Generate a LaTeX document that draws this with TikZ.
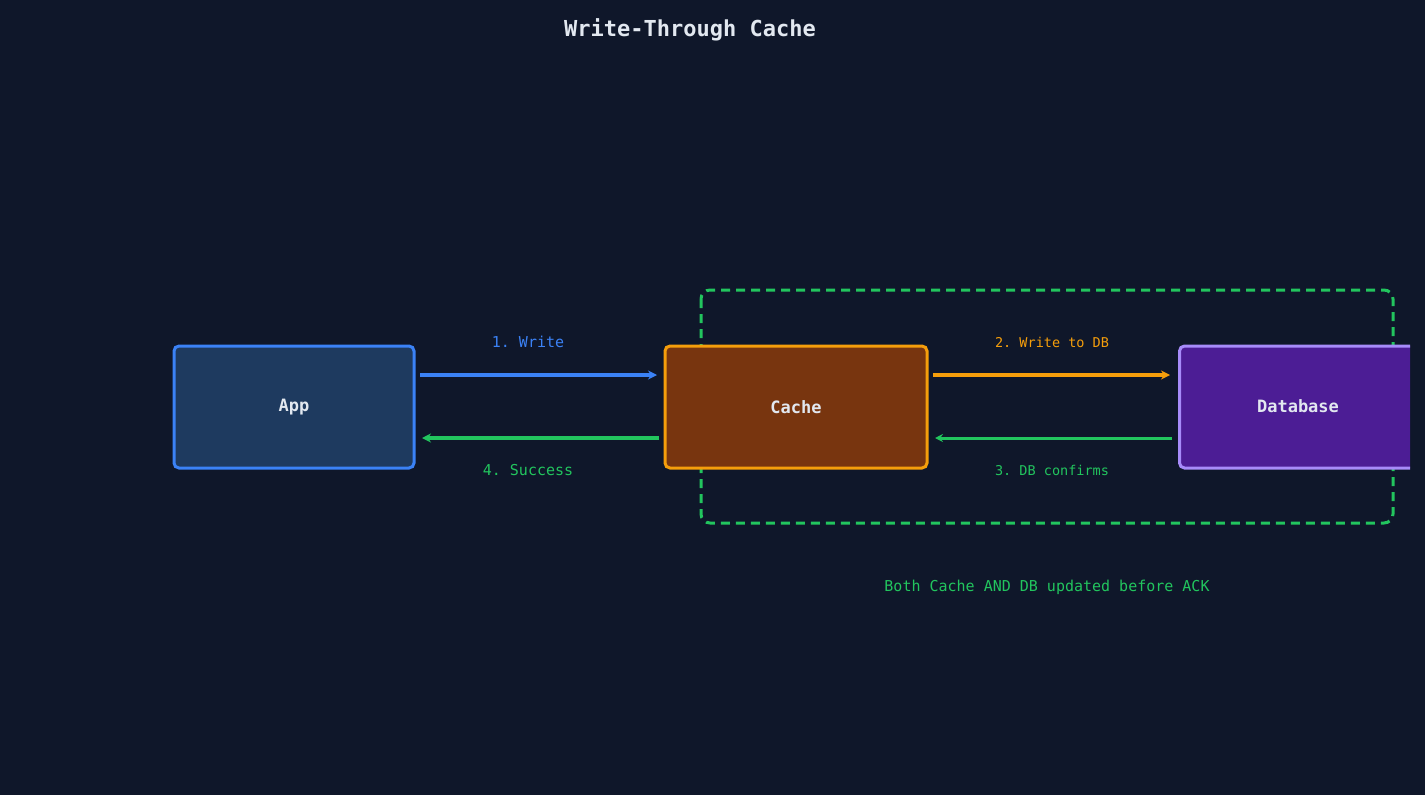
\documentclass[tikz,border=0pt]{standalone}
\usepackage{fontspec}
\setmonofont{DejaVu Sans Mono}
\usetikzlibrary{arrows.meta}
\definecolor{bg}{HTML}{0F172A}
\definecolor{blu}{HTML}{3B82F6}
\definecolor{grn}{HTML}{22C55E}
\definecolor{org}{HTML}{F59E0B}
\definecolor{pur}{HTML}{A78BFA}
\definecolor{txt}{HTML}{E2E8F0}
\definecolor{appf}{HTML}{1E3A5F}
\definecolor{cachef}{HTML}{78350F}
\definecolor{dbf}{HTML}{4C1D95}
\tikzset{
 box/.style={draw, line width=3pt, rounded corners=5pt, inner sep=0pt, font=\ttfamily\bfseries\fontsize{17}{20}\selectfont, text=txt},
 arr/.style={line width=3.5pt, -{Stealth[length=9pt,width=9pt]}},
 lab/.style={font=\ttfamily\fontsize{15}{18}\selectfont}
}
\begin{document}
\begin{tikzpicture}[x=1pt,y=-1pt]
\fill[bg] (0,0) rectangle (1425,795);
\useasboundingbox (0,0) rectangle (1425,795);
\node[font=\ttfamily\bfseries\fontsize{22}{26}\selectfont, text=txt] (title) at (690,30) {Write-Through Cache};
\draw[grn, line width=3pt, dash pattern=on 9pt off 6pt, rounded corners=9pt] (701,290) rectangle (1393,523);
\node[box, fill=appf, draw=blu, minimum width=240pt, minimum height=122pt] (app) at (294,407) {App};
\node[box, fill=cachef, draw=org, minimum width=262pt, minimum height=122pt] (cache) at (796,407) {Cache};
\begin{scope}
\clip (0,0) rectangle (1410,795);
\node[box, fill=dbf, draw=pur, minimum width=240pt, minimum height=122pt, anchor=west] (db) at (1178,407) {};
\end{scope}
\node[font=\ttfamily\bfseries\fontsize{17}{20}\selectfont, text=txt] (dbl) at (1298,406) {Database};
\coordinate (a1) at (420,375); \coordinate (a2) at (657,375);
\coordinate (b1) at (659,438); \coordinate (b2) at (422,438);
\coordinate (c1) at (933,375); \coordinate (c2) at (1170,375);
\coordinate (d1) at (1172,438); \coordinate (d2) at (935,438);
\draw[arr, blu] (a1) -- (a2);
\draw[arr, grn] (b1) -- (b2);
\draw[arr, org] (c1) -- (c2);
\draw[grn, line width=3pt, -{Stealth[length=8pt,width=8pt]}] (d1) -- (d2);
\node[lab, text=blu] (l1) at (528,342) {1. Write};
\node[lab, text=grn] (l4) at (528,470) {4. Success};
\node[text=org, font=\ttfamily\fontsize{13.5}{16}\selectfont] (l2) at (1052,342) {2. Write to DB};
\node[text=grn, font=\ttfamily\fontsize{13.5}{16}\selectfont] (l3) at (1052,470) {3. DB confirms};
\node[lab, text=grn] (note) at (1047,587) {Both Cache AND DB updated before ACK};
\end{tikzpicture}
\end{document}
